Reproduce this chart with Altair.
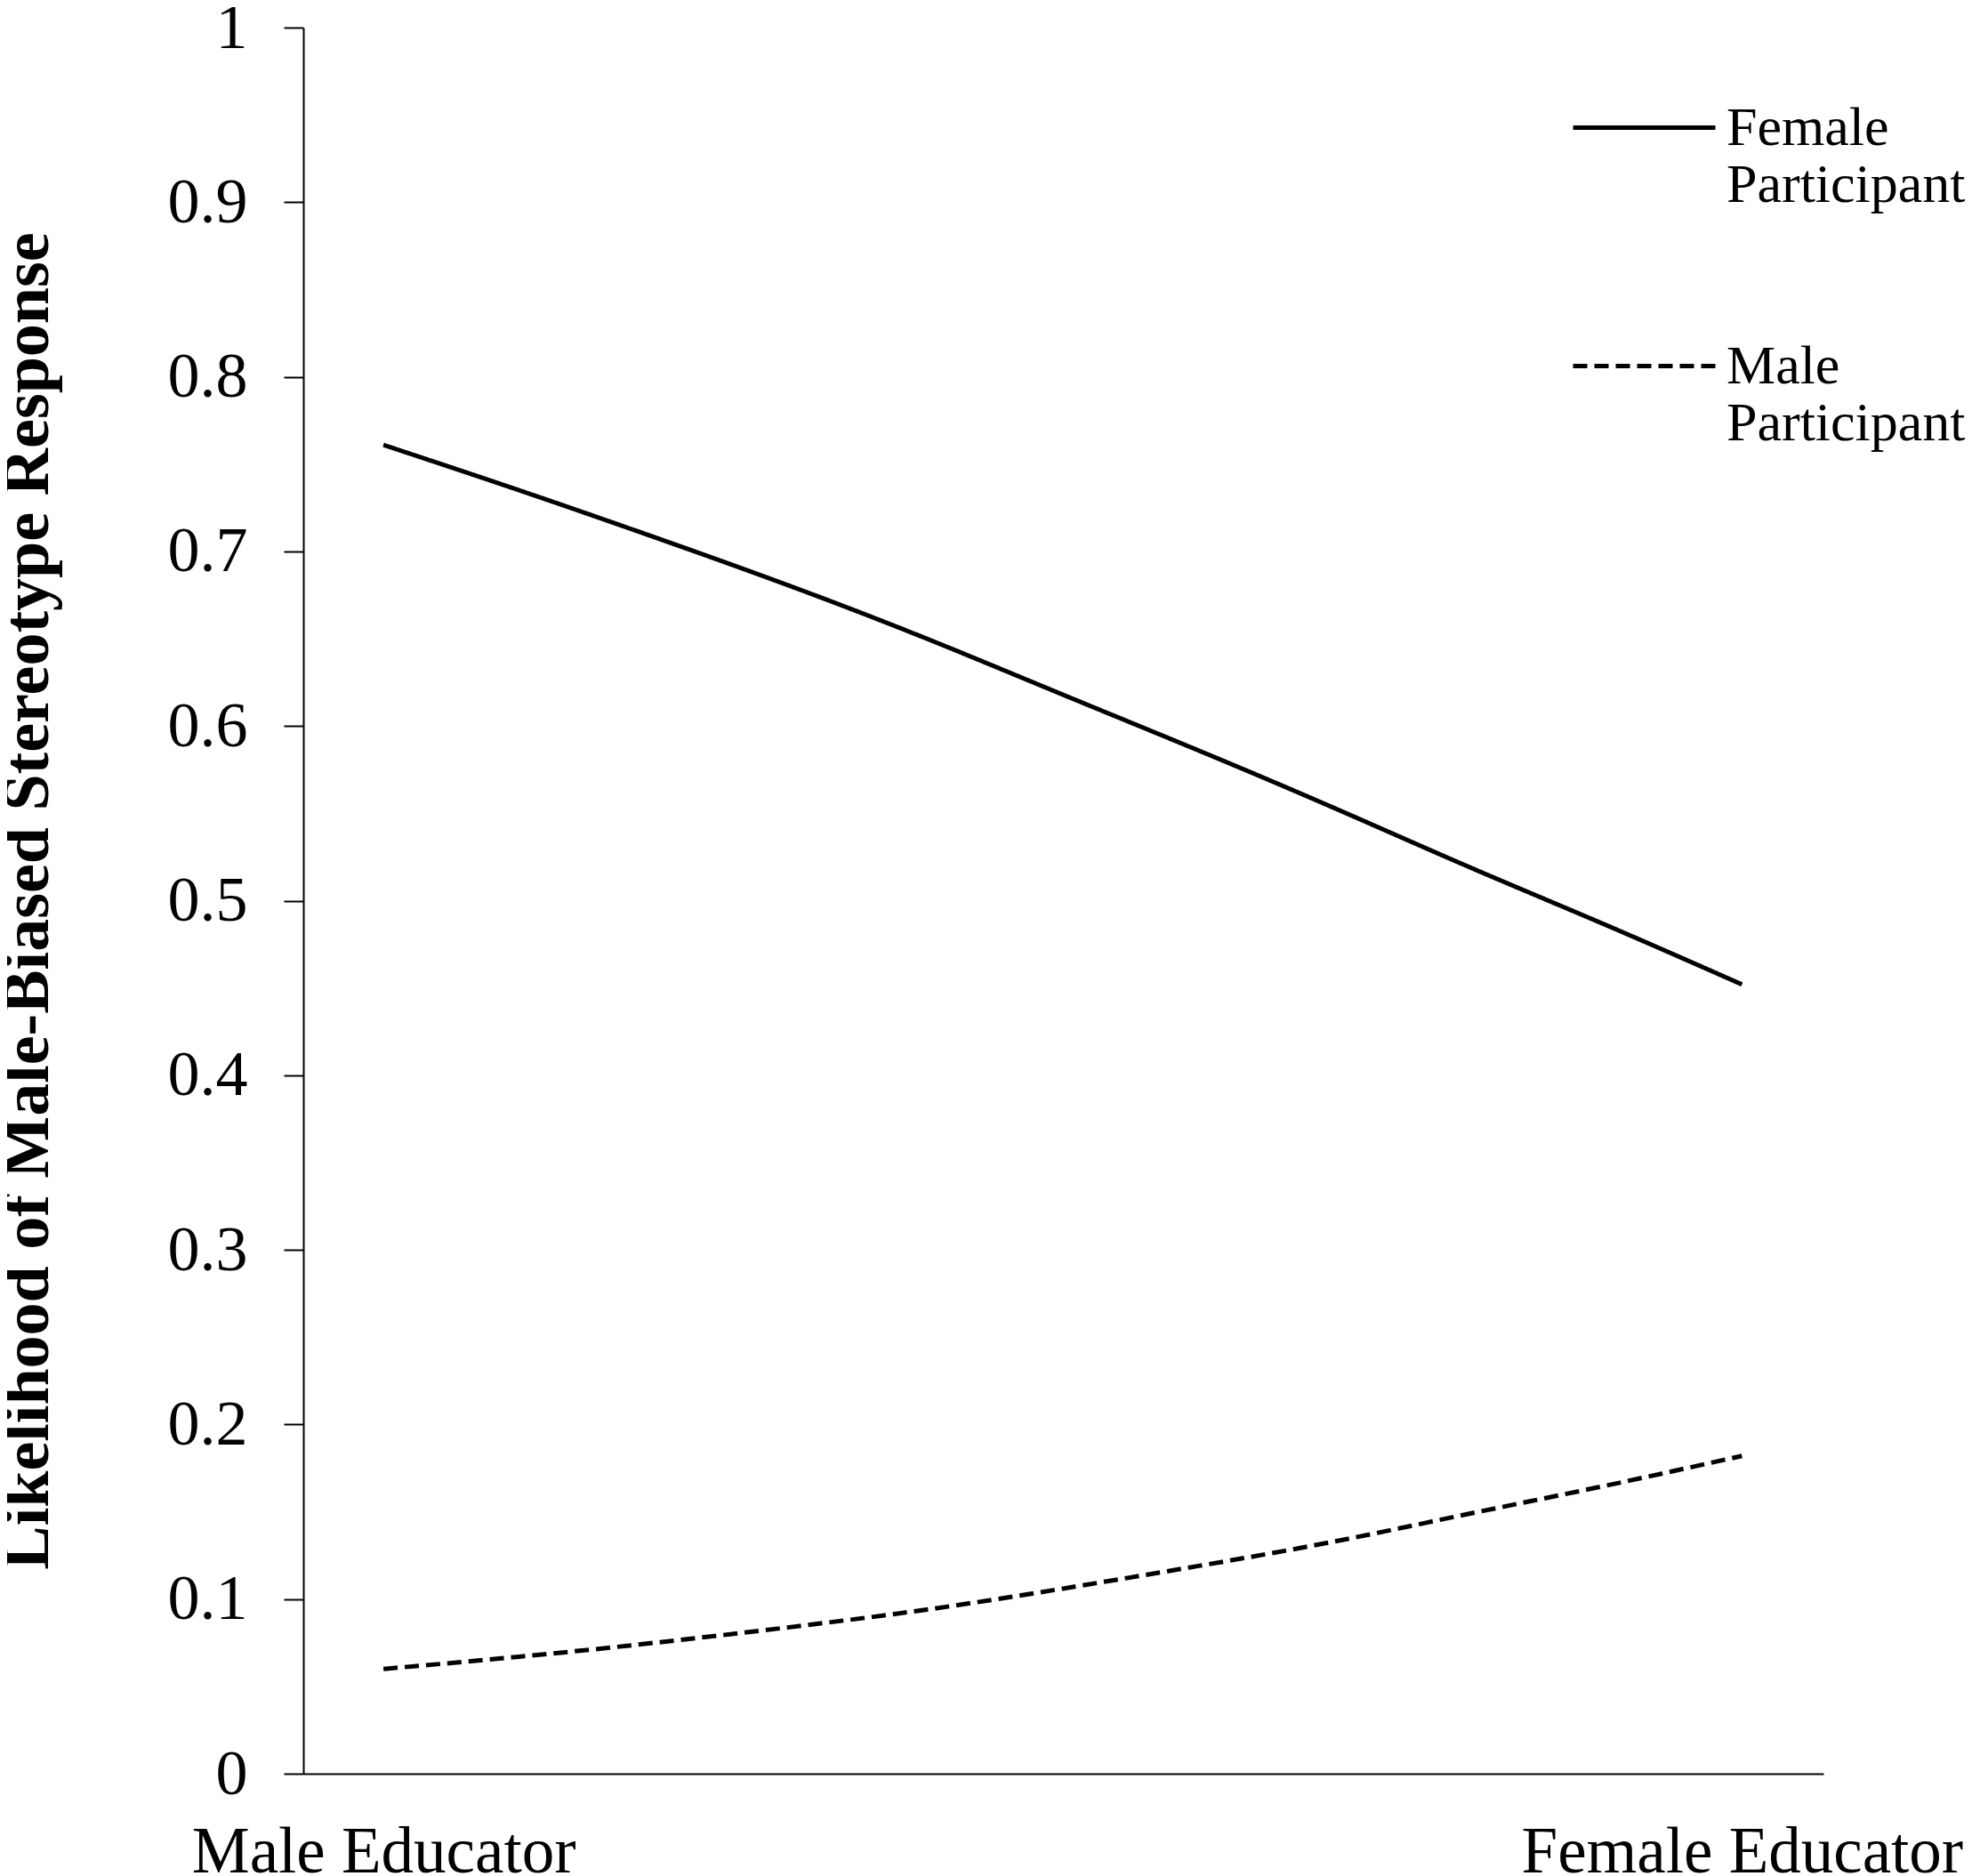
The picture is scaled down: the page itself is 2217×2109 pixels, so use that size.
import altair as alt
import pandas as pd

# x position along educator condition (0 = Male Educator, 1 = Female Educator)
x_pos = [0.0, 0.1, 0.2, 0.3, 0.4, 0.5, 0.6, 0.7, 0.8, 0.9, 1.0]
female_participant = [0.761, 0.735, 0.708, 0.680, 0.650, 0.618, 0.586, 0.553, 0.519, 0.486, 0.452]
male_participant = [0.060, 0.067, 0.075, 0.084, 0.094, 0.106, 0.119, 0.133, 0.149, 0.165, 0.182]
series_names = ["Female Participant", "Male Participant"]
x_tick_values = [0, 1]
x_tick_labels = ["Male Educator", "Female Educator"]
y_tick_values = [0, 0.1, 0.2, 0.3, 0.4, 0.5, 0.6, 0.7, 0.8, 0.9, 1]

rows = []
for x, v in zip(x_pos, female_participant):
    rows.append({"x": x, "y": v, "series": series_names[0]})
for x, v in zip(x_pos, male_participant):
    rows.append({"x": x, "y": v, "series": series_names[1]})
df = pd.DataFrame(rows)

label_expr = " : ".join(
    [f"datum.value == {v} ? '{t}'" for v, t in zip(x_tick_values, x_tick_labels)]
) + " : ''"

FONT = "Liberation Serif"

chart = alt.Chart(df).mark_line(strokeWidth=5, interpolate="natural", strokeCap="butt").encode(
    x=alt.X("x:Q",
            scale=alt.Scale(domain=[-0.059, 1.06], nice=False, zero=False),
            axis=alt.Axis(values=x_tick_values, labelExpr=label_expr, ticks=False,
                          title=None, grid=False, labelPadding=52, labelLimit=0,
                          labelFontSize=73, labelFont=FONT, labelColor="black",
                          domainColor="black", domainWidth=2, labelFlush=False,
                          labelOverlap=False)),
    y=alt.Y("y:Q",
            scale=alt.Scale(domain=[0, 1], nice=False),
            axis=alt.Axis(values=y_tick_values, format="~g", grid=False,
                          title="Likelihood of Male-Biased Stereotype Response",
                          titleFont=FONT, titleFontSize=74, titleFontWeight="bold",
                          titleColor="black", titleX=-288, titleBaseline="alphabetic",
                          titleY=981.5, titleAngle=-90, titleLimit=0,
                          labelFontSize=72, labelFont=FONT, labelColor="black",
                          labelPadding=41, tickSize=22, tickWidth=2, tickColor="black",
                          domainColor="black", domainWidth=2, labelFlush=False)),
    color=alt.value("black"),
    strokeDash=alt.StrokeDash("series:N",
                              scale=alt.Scale(domain=series_names, range=[[1, 0], [16, 8]]),
                              legend=alt.Legend(title=None, orient="none",
                                                legendX=1425, legendY=30,
                                                symbolType="stroke", symbolSize=25600,
                                                symbolStrokeWidth=5, symbolStrokeColor="black",
                                                labelFont=FONT, labelFontSize=62,
                                                labelColor="black", labelLimit=0,
                                                labelExpr="split(datum.label, ' ')",
                                                labelOffset=10, rowPadding=90,
                                                padding=0)),
).properties(
    width=1709,
    height=1963,
    padding={"left": 333, "top": 23, "right": 159, "bottom": 115},
    autosize=alt.AutoSizeParams(type="none"),
).configure(background="white").configure_view(stroke=None)

chart.save("out.html", embed_options={"renderer": "svg", "actions": False})
